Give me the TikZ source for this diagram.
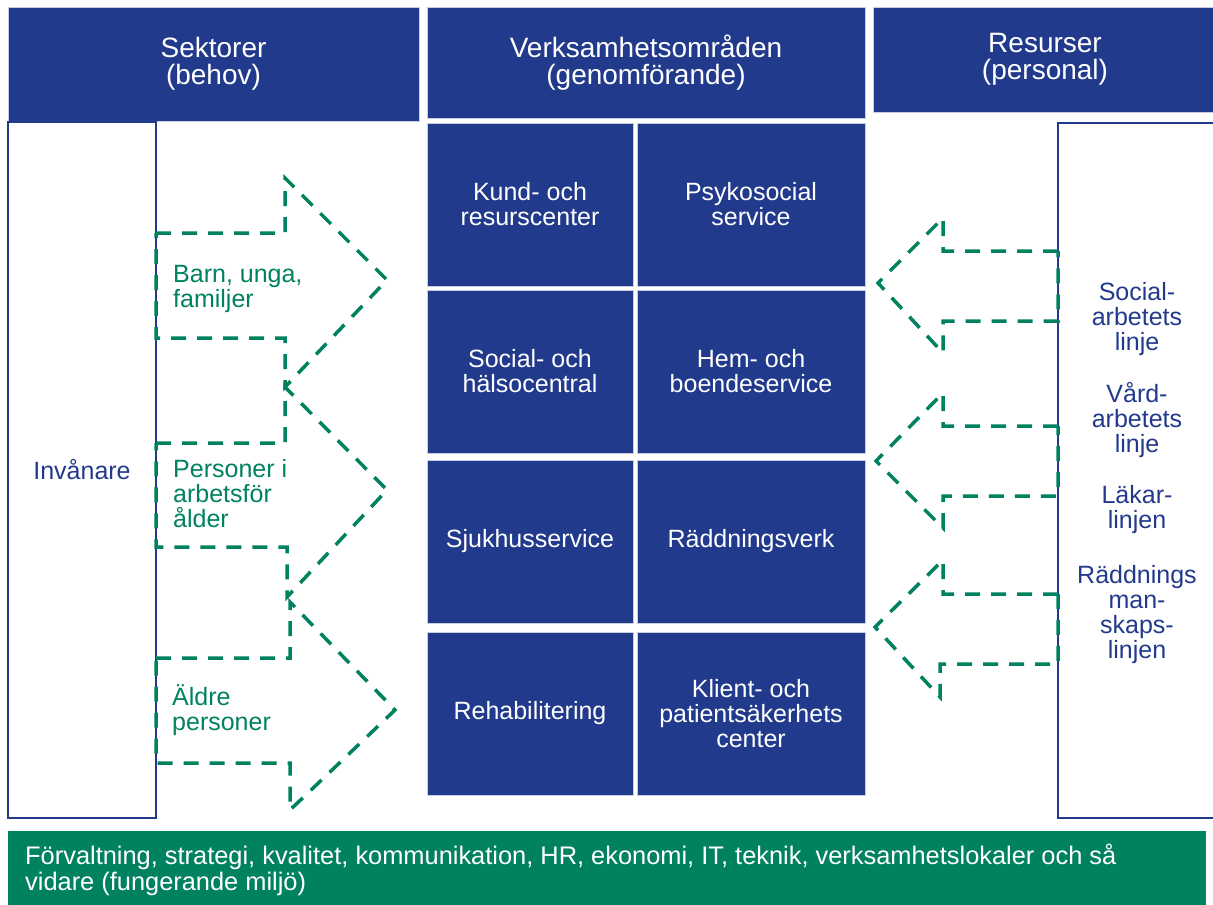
\documentclass[tikz,border=0pt]{standalone}
\usepackage{fontspec}
\setmainfont{Liberation Sans}
\definecolor{kblue}{RGB}{34,58,140}
\definecolor{kgreen}{RGB}{0,130,96}
\definecolor{kline}{RGB}{200,205,225}
\begin{document}
\begin{tikzpicture}[x=1pt,y=-1pt,
  blk/.style={draw=kline, line width=0.8pt, fill=kblue, text=white, align=center, inner sep=0pt},
  hdr/.style={blk, font=\fontsize{28}{27}\selectfont},
  cell/.style={blk, font=\fontsize{25}{25}\selectfont, minimum height=163pt},
  cola/.style={cell, minimum width=206pt},
  colb/.style={cell, minimum width=228pt},
  frame/.style={draw=kblue, line width=2pt, fill=white, inner sep=0pt, text=kblue, align=center, font=\fontsize{25}{25}\selectfont},
  glabel/.style={text=kgreen, align=left, inner sep=0pt, font=\fontsize{25}{25}\selectfont},
  blabel/.style={text=kblue, align=center, inner sep=0pt, font=\fontsize{25}{25}\selectfont},
  garrow/.style={draw=kgreen, line width=3.5pt, dash pattern=on 15pt off 11pt, line join=miter}
]
\useasboundingbox (0,0) rectangle (1213,905);
\fill[white] (0,0) rectangle (1213,905);

% headers
\node[hdr, minimum width=411pt, minimum height=114pt] (sek) at (213.5,64) {Sektorer\\(behov)};
\node[hdr, minimum width=438pt, minimum height=111pt] (verk) at (646,62.5) {Verksamhetsområden\\(genomförande)};
\node[hdr, minimum width=344pt, minimum height=105pt] (res) at (1045,59.5) {Resurser\\(personal)};

% side frames
\node[frame, minimum width=148pt, minimum height=696pt] (inv) at (82,470) {Invånare};
\node[frame, minimum width=160pt, minimum height=695pt] (rbox) at (1138,470.5) {};

% center cells
\node[cola] (kund) at (530,204.5) {Kund- och\\resurscenter};
\node[colb] (psyk) at (751,204.5) {Psykosocial\\service};
\node[cola] (shc) at (530,371.5) {Social- och\\hälsocentral};
\node[colb] (hem) at (751,371.5) {Hem- och\\boendeservice};
\node[cola] (sjuk) at (530,541.5) {Sjukhusservice};
\node[colb] (radd) at (751,541.5) {Räddningsverk};
\node[cola] (rehab) at (530,713.5) {Rehabilitering};
\node[colb] (klient) at (751,713.5) {Klient- och\\patientsäkerhets\\center};

% left arrows
\draw[garrow] (156,233) -- (285,233) -- (285,178) -- (387,280) -- (285,387) -- (285,338) -- (156,338) -- cycle;
\draw[garrow] (156,443) -- (285,443) -- (285,387) -- (387,490) -- (287,597) -- (287,547) -- (156,547) -- cycle;
\draw[garrow] (156,658) -- (290,658) -- (290,602) -- (395,710) -- (290,810) -- (290,763) -- (156,763) -- cycle;

% right arrows
\draw[garrow] (1058,251) -- (943,251) -- (943,218) -- (878,283) -- (943,353) -- (943,321) -- (1058,321) -- cycle;
\draw[garrow] (1058,426) -- (943,426) -- (943,393) -- (876,461) -- (943,528) -- (943,496) -- (1058,496) -- cycle;
\draw[garrow] (1058,594) -- (943,594) -- (943,560) -- (875,627) -- (940,697) -- (940,664) -- (1058,664) -- cycle;

% green labels (base = baseline of last line)
\node[glabel, anchor=base west] (barn) at (173,307) {Barn, unga,\\familjer};
\node[glabel, anchor=base west] (pers) at (173,527) {Personer i\\arbetsför\\ålder};
\node[glabel, anchor=base west] (aldre) at (172,730) {Äldre\\personer};

% right labels
\node[blabel, anchor=base] (soc) at (1137,350) {Social-\\arbetets\\linje};
\node[blabel, anchor=base] (vard) at (1137,452) {Vård-\\arbetets\\linje};
\node[blabel, anchor=base] (lak) at (1137,528) {Läkar-\\linjen};
\node[blabel, anchor=base] (raddl) at (1137,658) {Räddnings\\man-\\skaps-\\linjen};

% bottom bar
\fill[kgreen] (8,831) rectangle (1206,910);
\node[anchor=base west, inner sep=0pt, text=white, align=left, font=\fontsize{25.4}{26}\selectfont] (bottom) at (25,890) {Förvaltning, strategi, kvalitet, kommunikation, HR, ekonomi, IT, teknik, verksamhetslokaler och så\\vidare (fungerande miljö)};
\end{tikzpicture}
\end{document}
